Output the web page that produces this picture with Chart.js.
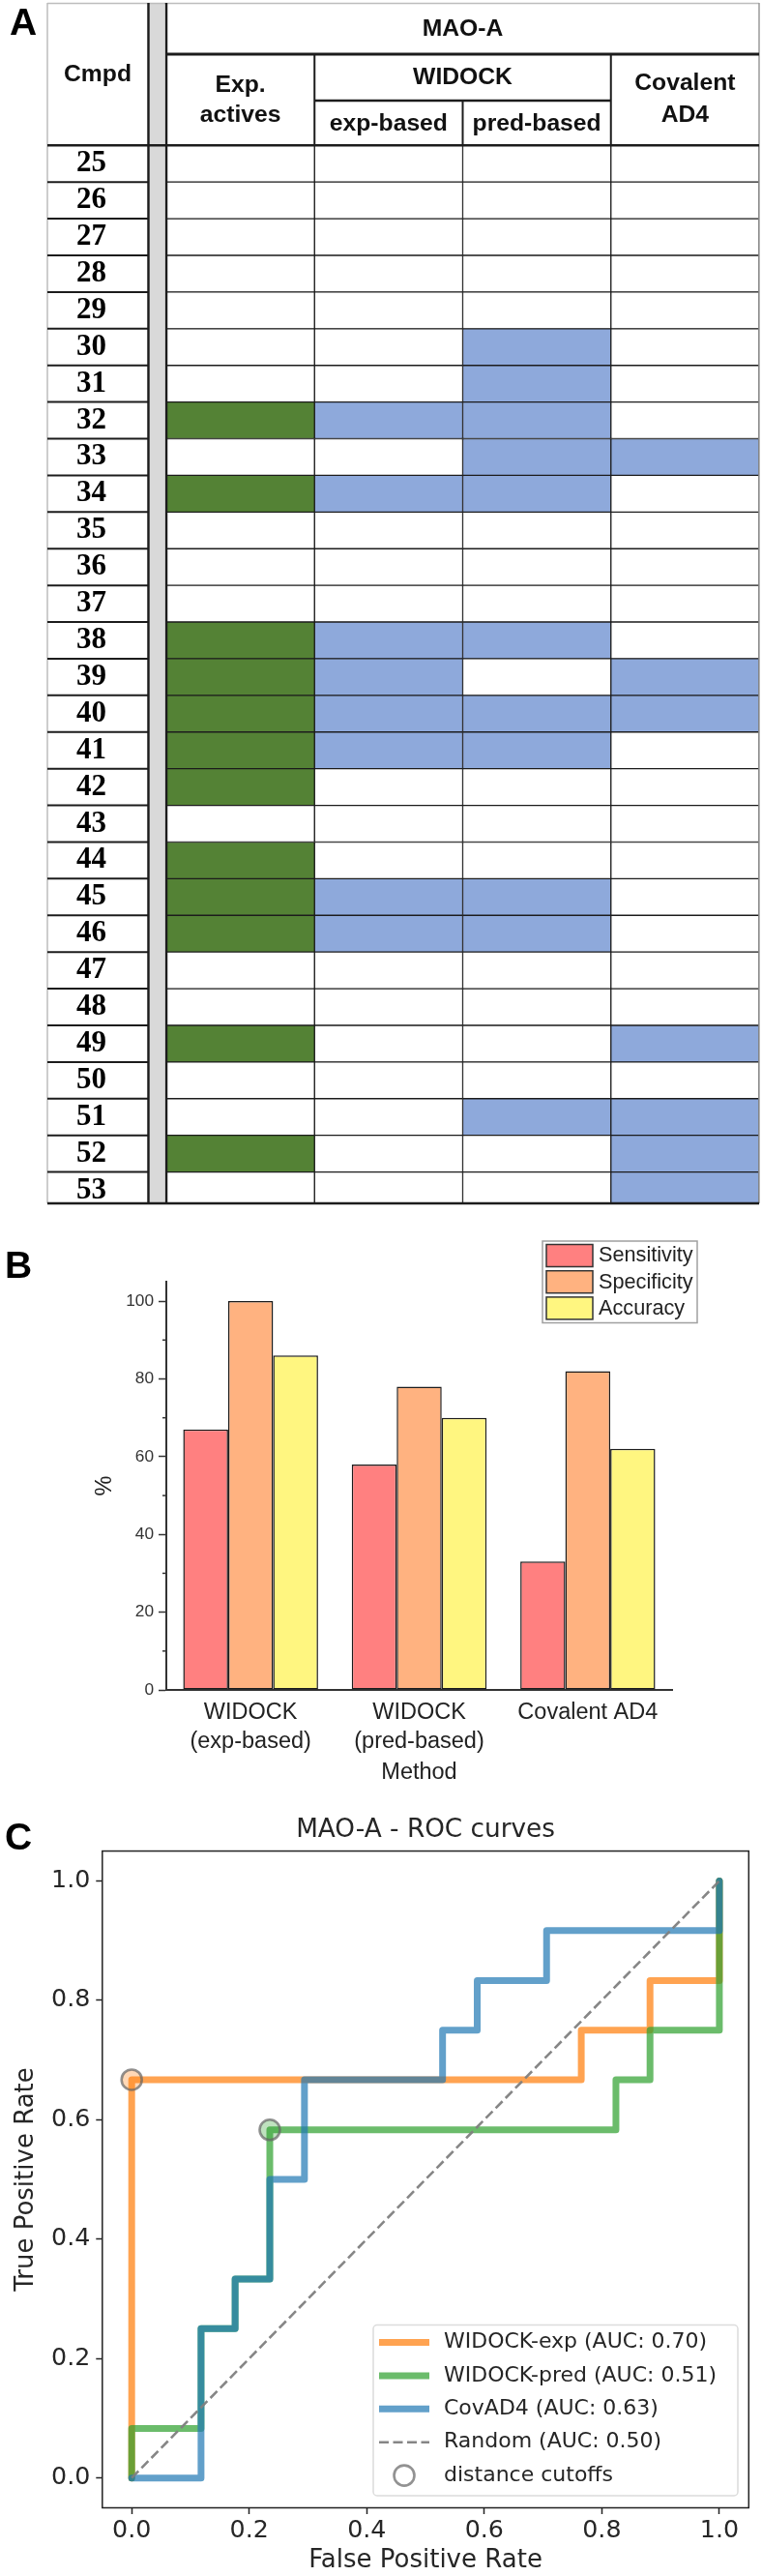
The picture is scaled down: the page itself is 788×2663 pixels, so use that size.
<!DOCTYPE html>
<html lang="en">
<head>
<meta charset="UTF-8">
<title>MAO-A docking comparison</title>
<script src="https://cdn.jsdelivr.net/npm/chart.js"></script>
<style>
    html, body { margin: 0; padding: 0; background: #fff; }
    body { position: relative; width: 788px; height: 2663px; overflow: hidden; }
    canvas { position: absolute; left: 0; }
    #tableChart { top: 0; }
    #barChart { top: 1250px; }
    #rocChart { top: 1870px; }
</style>
</head>
<body>
<canvas id="tableChart" width="788" height="1250"></canvas>
<canvas id="barChart" width="788" height="630"></canvas>
<canvas id="rocChart" width="788" height="793"></canvas>

<script>
// panel A: table of hits, 1 = filled cell
const compounds = [25,26,27,28,29,30,31,32,33,34,35,36,37,38,39,40,41,42,43,44,45,46,47,48,49,50,51,52,53];
const expActives = [0,0,0,0,0,0,0,1,0,1,0,0,0,1,1,1,1,1,0,1,1,1,0,0,1,0,0,1,0];
const widockExp  = [0,0,0,0,0,0,0,1,0,1,0,0,0,1,1,1,1,0,0,0,1,1,0,0,0,0,0,0,0];
const widockPred = [0,0,0,0,0,1,1,1,1,1,0,0,0,1,0,1,1,0,0,0,1,1,0,0,0,0,1,0,0];
const covalentAd4 = [0,0,0,0,0,0,0,0,1,0,0,0,0,0,1,1,0,0,0,0,0,0,0,0,1,0,1,1,1];

// panel B
const methods = [['WIDOCK', '(exp-based)'], ['WIDOCK', '(pred-based)'], 'Covalent AD4'];
const sensitivity = [67, 58, 33];
const specificity = [100, 78, 82];
const accuracy = [86, 70, 62];
const barTicks = [0, 20, 40, 60, 80, 100];
const barMinorTicks = [10, 30, 50, 70, 90];

// panel C
const rocTicks = [0, 0.2, 0.4, 0.6, 0.8, 1];
const expFpr = [0, 0, 0.765, 0.765, 0.882, 0.882, 1, 1];
const expTpr = [0, 0.667, 0.667, 0.75, 0.75, 0.833, 0.833, 1];
const predFpr = [0, 0, 0.118, 0.118, 0.176, 0.176, 0.235, 0.235, 0.824, 0.824, 0.882, 0.882, 1, 1];
const predTpr = [0, 0.083, 0.083, 0.25, 0.25, 0.333, 0.333, 0.583, 0.583, 0.667, 0.667, 0.75, 0.75, 1];
const covFpr = [0, 0.118, 0.118, 0.176, 0.176, 0.235, 0.235, 0.294, 0.294, 0.529, 0.529, 0.588, 0.588, 0.706, 0.706, 1, 1];
const covTpr = [0, 0, 0.25, 0.25, 0.333, 0.333, 0.5, 0.5, 0.667, 0.667, 0.75, 0.75, 0.833, 0.833, 0.917, 0.917, 1];
const randomFpr = [0, 1];
const randomTpr = [0, 1];
const cutoffFpr = [0, 0.235];
const cutoffTpr = [0.667, 0.583];

const SANS = '"Liberation Sans", Arial, sans-serif';
const DEJAVU = '"DejaVu Sans", sans-serif';
const LINE = '#1c1c1c';

function toPoints(xs, ys) {
    return xs.map((x, i) => ({ x: x, y: ys[i] }));
}

function hline(ctx, x1, x2, y, color, width) {
    ctx.strokeStyle = color;
    ctx.lineWidth = width;
    ctx.beginPath();
    ctx.moveTo(x1, y);
    ctx.lineTo(x2, y);
    ctx.stroke();
}

function vline(ctx, x, y1, y2, color, width) {
    ctx.strokeStyle = color;
    ctx.lineWidth = width;
    ctx.beginPath();
    ctx.moveTo(x, y1);
    ctx.lineTo(x, y2);
    ctx.stroke();
}

function panelLetter(ctx, text, x, y) {
    ctx.save();
    ctx.fillStyle = '#000';
    ctx.font = 'bold 39px ' + SANS;
    ctx.textAlign = 'left';
    ctx.textBaseline = 'alphabetic';
    ctx.fillText(text, x, y);
    ctx.restore();
}

// ---------- panel A ----------
function cellDataset(label, flags, color, column) {
    return {
        label: label,
        data: flags.map((f, i) => ({ x: [column, column + 1], y: i })),
        backgroundColor: flags.map(f => f ? color : '#ffffff'),
        borderColor: LINE,
        borderWidth: 1,
        borderSkipped: false,
        barPercentage: 1,
        categoryPercentage: 1,
        grouped: false
    };
}

const tableFrame = {
    id: 'tableFrame',
    beforeDatasetsDraw(chart) {
        const ctx = chart.ctx;
        const a = chart.chartArea;
        ctx.save();
        ctx.fillStyle = '#d9d9d9';
        ctx.fillRect(155, 3, 15, a.bottom - 3);
        ctx.restore();
    },
    afterDraw(chart) {
        const ctx = chart.ctx;
        const a = chart.chartArea;
        const xs = chart.scales.x;
        const ys = chart.scales.y;
        const c1 = xs.getPixelForValue(1), c2 = xs.getPixelForValue(2), c3 = xs.getPixelForValue(3);
        ctx.save();
        // outer frame
        hline(ctx, 49, a.right, 3.5, '#bdbdbd', 1.5);
        vline(ctx, 49, 3, a.bottom, '#bdbdbd', 1.5);
        vline(ctx, a.right, 3, a.bottom, '#9a9a9a', 1.5);
        hline(ctx, 49, a.right, a.bottom, LINE, 2.5);
        vline(ctx, 153.5, 3, a.bottom, LINE, 2.5);
        vline(ctx, a.left, 3, a.bottom, LINE, 2.5);
        // header rules
        hline(ctx, a.left, a.right, 56, LINE, 3);
        hline(ctx, c1, c3, 104, LINE, 2.5);
        vline(ctx, c1, 56, a.top, LINE, 2);
        vline(ctx, c2, 104, a.top, LINE, 2);
        vline(ctx, c3, 56, a.top, LINE, 2);
        hline(ctx, 49, a.right, a.top, LINE, 2.5);
        // rules of the compound column
        compounds.forEach((c, i) => {
            if (i < compounds.length - 1) {
                hline(ctx, 49, 153, ys.getPixelForValue(i + 0.5), LINE, 2);
            }
        });
        // header text
        ctx.fillStyle = '#111';
        ctx.font = 'bold 24.7px ' + SANS;
        ctx.textAlign = 'center';
        ctx.textBaseline = 'middle';
        ctx.fillText('MAO-A', xs.getPixelForValue(2), 30);
        ctx.fillText('Cmpd', 101, 77);
        ctx.fillText('Exp.', xs.getPixelForValue(0.5), 88);
        ctx.fillText('actives', xs.getPixelForValue(0.5), 119);
        ctx.fillText('WIDOCK', c2, 80);
        ctx.fillText('exp-based', xs.getPixelForValue(1.5), 128);
        ctx.fillText('pred-based', xs.getPixelForValue(2.5), 128);
        ctx.fillText('Covalent', xs.getPixelForValue(3.5), 86);
        ctx.fillText('AD4', xs.getPixelForValue(3.5), 119);
        ctx.restore();
        panelLetter(ctx, 'A', 10, 36);
    }
};

new Chart(document.getElementById('tableChart'), {
    type: 'bar',
    data: {
        datasets: [
            cellDataset('Exp. actives', expActives, '#548235', 0),
            cellDataset('exp-based', widockExp, '#8EA9DB', 1),
            cellDataset('pred-based', widockPred, '#8EA9DB', 2),
            cellDataset('Covalent AD4', covalentAd4, '#8EA9DB', 3)
        ]
    },
    options: {
        indexAxis: 'y',
        responsive: false,
        animation: false,
        layout: { padding: { top: 150.3, right: 3, bottom: 6 } },
        plugins: { legend: { display: false }, tooltip: { enabled: false } },
        scales: {
            x: { type: 'linear', min: 0, max: 4, display: false },
            y: {
                type: 'linear',
                reverse: true,
                offset: false, // bar charts turn this on, it would pad the rows
                min: -0.5,
                max: 28.355,
                grid: { display: false },
                border: { display: false },
                afterBuildTicks(s) { s.ticks = compounds.map((c, i) => ({ value: i })); },
                afterFit(s) {
                    s.width = 172;
                    // tick padding also counts as vertical padding, drop it
                    s.paddingTop = 0;
                    s.paddingBottom = 0;
                },
                ticks: {
                    autoSkip: false,
                    padding: 54,
                    color: '#000',
                    font: { family: '"Liberation Serif", serif', weight: 'bold', size: 31 },
                    callback: (v, i) => String(compounds[i])
                }
            }
        }
    },
    plugins: [tableFrame]
});

// ---------- panel B ----------
const barDecor = {
    id: 'barDecor',
    afterDraw(chart) {
        const ctx = chart.ctx;
        const ys = chart.scales.y;
        const a = chart.chartArea;
        ctx.save();
        barMinorTicks.forEach(v => {
            const y = ys.getPixelForValue(v);
            hline(ctx, a.left - 4, a.left, y, '#333', 1.5);
        });
        // legend box
        ctx.fillStyle = '#fff';
        ctx.strokeStyle = '#a0a0a0';
        ctx.lineWidth = 1.5;
        ctx.fillRect(561, 33, 160, 84.5);
        ctx.strokeRect(561, 33, 160, 84.5);
        chart.data.datasets.forEach((ds, i) => {
            const top = 36.5 + i * 27.2;
            ctx.fillStyle = ds.backgroundColor;
            ctx.strokeStyle = '#333';
            ctx.lineWidth = 1.5;
            ctx.fillRect(565, top, 48, 23);
            ctx.strokeRect(565, top, 48, 23);
            ctx.fillStyle = '#222';
            ctx.font = '21.7px ' + SANS;
            ctx.textAlign = 'left';
            ctx.textBaseline = 'middle';
            ctx.fillText(ds.label, 619, top + 12);
        });
        ctx.restore();
        panelLetter(ctx, 'B', 5, 71);
    }
};

function barDataset(label, values, color) {
    return {
        label: label,
        data: values,
        backgroundColor: color,
        borderColor: '#1c1c1c',
        borderWidth: 1.5,
        borderSkipped: false,
        barPercentage: 1,
        categoryPercentage: 0.8
    };
}

new Chart(document.getElementById('barChart'), {
    type: 'bar',
    data: {
        labels: methods,
        datasets: [
            barDataset('Sensitivity', sensitivity, '#FF8080'),
            barDataset('Specificity', specificity, '#FFB280'),
            barDataset('Accuracy', accuracy, '#FFF680')
        ]
    },
    options: {
        responsive: false,
        animation: false,
        layout: { padding: { top: 75, right: 93, left: 94 } },
        plugins: { legend: { display: false }, tooltip: { enabled: false } },
        scales: {
            x: {
                grid: { display: false, drawOnChartArea: false, drawTicks: true, tickLength: 8, tickColor: '#333', tickWidth: 1.5 },
                border: { color: '#333', width: 2 },
                afterFit(s) { s.height = 133; },
                ticks: {
                    color: '#222',
                    padding: 0,
                    maxRotation: 0,
                    font: { family: SANS, size: 23.5, lineHeight: 1.28 }
                },
                title: {
                    display: true,
                    text: 'Method',
                    color: '#222',
                    font: { family: SANS, size: 23.5 },
                    padding: { top: 0, bottom: 33 }
                }
            },
            y: {
                min: 0,
                max: 105,
                grid: { drawOnChartArea: false, tickLength: 8, tickColor: '#333', tickWidth: 1.5 },
                border: { color: '#333', width: 2 },
                afterBuildTicks(s) { s.ticks = barTicks.map(v => ({ value: v })); },
                afterFit(s) { s.width = 78; },
                ticks: {
                    color: '#333',
                    padding: 5,
                    font: { family: SANS, size: 17.3 }
                },
                title: {
                    display: true,
                    text: '%',
                    color: '#222',
                    font: { family: SANS, size: 23.5 },
                    padding: { top: 0, bottom: 0 }
                }
            }
        }
    },
    plugins: [barDecor]
});

// ---------- panel C ----------
const rocDecor = {
    id: 'rocDecor',
    afterDraw(chart) {
        const ctx = chart.ctx;
        const a = chart.chartArea;
        ctx.save();
        ctx.strokeStyle = '#222';
        ctx.lineWidth = 1.5;
        ctx.strokeRect(a.left, a.top, a.right - a.left, a.bottom - a.top);
        // legend
        ctx.beginPath();
        ctx.roundRect(386, 533.5, 377, 176.5, 4);
        ctx.fillStyle = 'rgba(255,255,255,0.8)';
        ctx.fill();
        ctx.strokeStyle = '#dcdcdc';
        ctx.lineWidth = 1.5;
        ctx.stroke();
        const rowTop = 551.5, rowStep = 34.4;
        chart.data.datasets.forEach((ds, i) => {
            const y = rowTop + i * rowStep;
            if (ds.showLine) {
                ctx.strokeStyle = ds.borderColor;
                ctx.lineWidth = ds.borderWidth;
                ctx.setLineDash(ds.borderDash || []);
                ctx.beginPath();
                ctx.moveTo(392, y);
                ctx.lineTo(444, y);
                ctx.stroke();
                ctx.setLineDash([]);
            } else {
                ctx.strokeStyle = ds.pointBorderColor;
                ctx.lineWidth = ds.pointBorderWidth;
                ctx.beginPath();
                ctx.arc(418, y, ds.pointRadius, 0, Math.PI * 2);
                ctx.stroke();
            }
            ctx.fillStyle = '#262626';
            ctx.font = '22px ' + DEJAVU;
            ctx.textAlign = 'left';
            ctx.textBaseline = 'middle';
            ctx.fillText(ds.label, 459, y);
        });
        ctx.restore();
        panelLetter(ctx, 'C', 5, 42);
    }
};

function rocDataset(label, xs, ys, color, order) {
    return {
        label: label,
        data: toPoints(xs, ys),
        showLine: true,
        borderColor: color,
        borderWidth: 7,
        borderJoinStyle: 'round',
        borderCapStyle: 'round',
        pointRadius: 0,
        tension: 0,
        order: order
    };
}

new Chart(document.getElementById('rocChart'), {
    type: 'scatter',
    data: {
        datasets: [
            rocDataset('WIDOCK-exp (AUC: 0.70)', expFpr, expTpr, 'rgba(255,127,14,0.72)', 5),
            rocDataset('WIDOCK-pred (AUC: 0.51)', predFpr, predTpr, 'rgba(44,160,44,0.7)', 4),
            rocDataset('CovAD4 (AUC: 0.63)', covFpr, covTpr, 'rgba(31,119,180,0.7)', 3),
            {
                label: 'Random (AUC: 0.50)',
                data: toPoints(randomFpr, randomTpr),
                showLine: true,
                borderColor: 'rgba(128,128,128,0.95)',
                borderWidth: 2.6,
                borderDash: [10, 4.5],
                pointRadius: 0,
                order: 2
            },
            {
                label: 'distance cutoffs',
                data: toPoints(cutoffFpr, cutoffTpr),
                showLine: false,
                pointRadius: 10.5,
                pointBorderWidth: 2.6,
                pointBorderColor: 'rgba(100,100,100,0.7)',
                pointBackgroundColor: ['rgba(255,127,14,0.3)', 'rgba(44,160,44,0.3)'],
                order: 1
            }
        ]
    },
    options: {
        responsive: false,
        animation: false,
        layout: { padding: { right: 13.7 } },
        plugins: {
            legend: { display: false },
            tooltip: { enabled: false },
            title: {
                display: true,
                text: 'MAO-A - ROC curves',
                fullSize: false,
                color: '#262626',
                font: { family: DEJAVU, size: 26.3, weight: 'normal', lineHeight: 1.2 },
                padding: { top: 6, bottom: 6 }
            }
        },
        scales: {
            x: {
                type: 'linear',
                min: -0.05,
                max: 1.05,
                grid: { drawOnChartArea: false, tickLength: 6.5, tickColor: '#222', tickWidth: 1.5 },
                border: { display: false },
                afterBuildTicks(s) { s.ticks = rocTicks.map(v => ({ value: v })); },
                afterFit(s) { s.height = 70.5; },
                ticks: {
                    color: '#262626',
                    padding: 2,
                    maxRotation: 0,
                    font: { family: DEJAVU, size: 25.3 },
                    callback: v => v.toFixed(1)
                },
                title: {
                    display: true,
                    text: 'False Positive Rate',
                    color: '#262626',
                    font: { family: DEJAVU, size: 26 },
                    padding: { top: 0, bottom: 0 }
                }
            },
            y: {
                type: 'linear',
                min: -0.05,
                max: 1.05,
                grid: { drawOnChartArea: false, tickLength: 6.5, tickColor: '#222', tickWidth: 1.5 },
                border: { display: false },
                afterBuildTicks(s) { s.ticks = rocTicks.map(v => ({ value: v })); },
                afterFit(s) { s.width = 105.8; },
                ticks: {
                    color: '#262626',
                    padding: 6,
                    font: { family: DEJAVU, size: 25.3 },
                    callback: v => v.toFixed(1)
                },
                title: {
                    display: true,
                    text: 'True Positive Rate',
                    color: '#262626',
                    font: { family: DEJAVU, size: 26 },
                    padding: { top: 12, bottom: 0 }
                }
            }
        }
    },
    plugins: [rocDecor]
});
</script>
</body>
</html>
